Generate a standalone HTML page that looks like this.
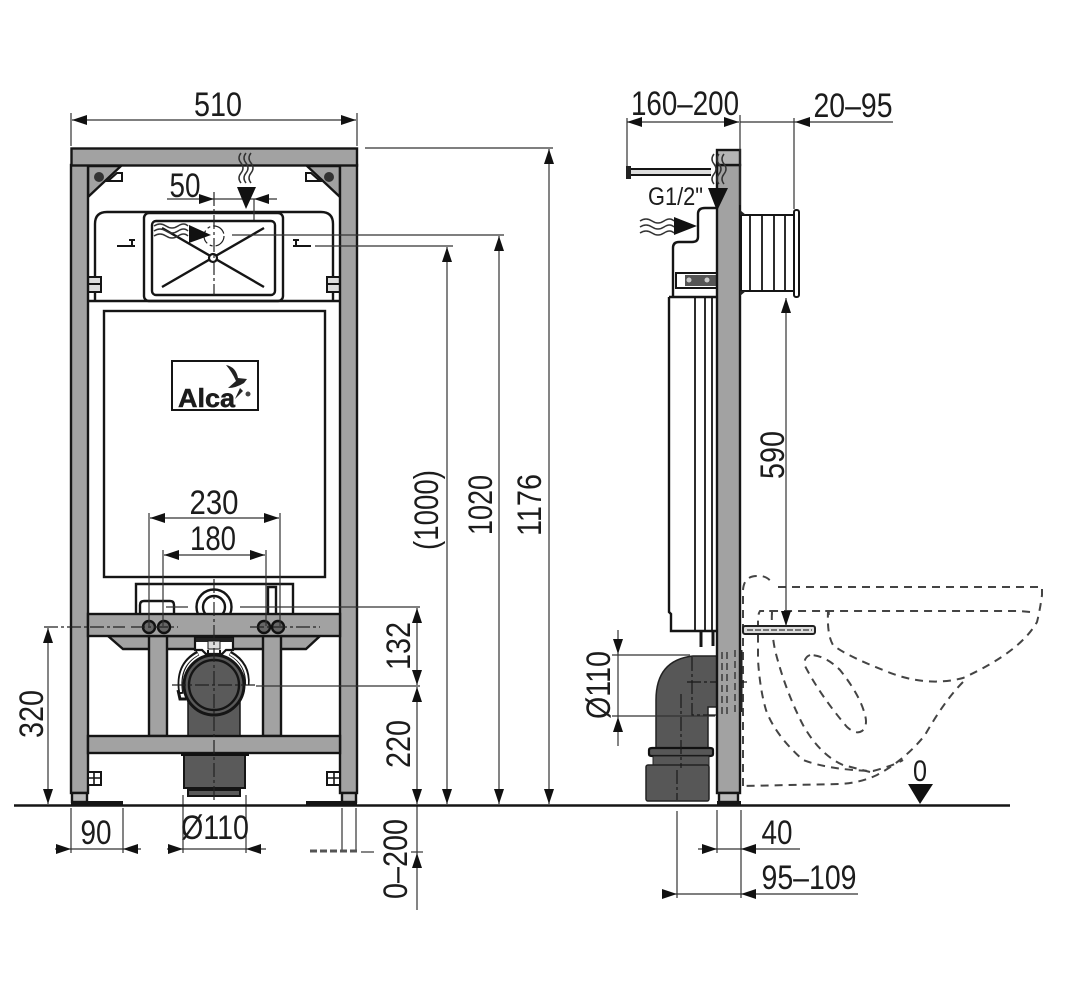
<!DOCTYPE html>
<html>
<head>
<meta charset="utf-8">
<style>
html,body{margin:0;padding:0;background:#fff}
svg{display:block}
text{font-family:"Liberation Sans",sans-serif;fill:#1c1c1c}
.t{font-size:34px;text-anchor:middle}
.k{stroke:#151515;stroke-width:2.4;fill:none}
.kf{stroke:#151515;stroke-width:2.4;fill:#a2a2a2}
.d{stroke:#333;stroke-width:1.2;fill:none}
.da{stroke:#333;stroke-width:1.2;fill:none;marker-end:url(#a)}
.c{stroke:#222;stroke-width:1.2;fill:none;stroke-dasharray:14 3 3 3}
.h{stroke:#444;stroke-width:2;fill:none;stroke-dasharray:8 6}
.w{stroke:#333;stroke-width:1.5;fill:none}
</style>
</head>
<body>
<svg width="1070" height="995" viewBox="0 0 1070 995" xmlns="http://www.w3.org/2000/svg">
<defs>
<marker id="a" markerUnits="userSpaceOnUse" markerWidth="16" markerHeight="12" refX="15" refY="5" orient="auto"><path d="M0 0L15 5L0 10Z" fill="#111"/></marker>
</defs>
<rect width="1070" height="995" fill="#fff"/>

<!-- FRONT VIEW: wall-side shapes -->
<rect x="104" y="311" width="221" height="266" fill="#fff" class="k"/>
<path d="M136 614V584H293V614" class="k" fill="#fff"/>
<path d="M140 614V605Q140 601 144 601H170Q174 601 174 605V614" class="k"/>
<path d="M268 614V587H276V614" class="k"/>
<circle cx="214" cy="607" r="17.5" fill="#fff" stroke="#151515" stroke-width="2.4"/>
<circle cx="214" cy="607" r="11" fill="#fff" stroke="#151515" stroke-width="2.4"/>
<path d="M108 636L123 649H306L320 636Z" class="kf"/>

<!-- top panel -->
<path d="M95 301V224Q95 212 107 212H321Q333 212 333 224V301" class="k"/>
<path d="M88 301H340" class="k"/>
<rect x="144" y="213" width="139" height="88" rx="5" fill="#fff" class="k"/>
<rect x="152" y="221" width="123" height="74" rx="4" fill="#fff" class="k"/>
<path d="M162 287L264 228M162 228L264 287" stroke="#151515" stroke-width="2.4"/>
<circle cx="213" cy="258" r="4" fill="#fff" stroke="#151515" stroke-width="2.2"/>
<circle cx="214" cy="236" r="10" class="c" stroke-dasharray="4 3"/>
<path d="M117 246H135M132 246V240M129 240H135M293 246H311M296 246V240M293 240H299" stroke="#151515" stroke-width="2" fill="none"/>
<path d="M88 277H101V292H88ZM327 277H340V292H327Z" fill="#ddd" stroke="#151515" stroke-width="2"/>
<path d="M89 284H100M328 284H339" stroke="#151515" stroke-width="2"/>

<!-- corner gussets -->
<path d="M88 166H121L88 197Z" class="kf"/>
<path d="M340 166H307L340 197Z" class="kf"/>
<circle cx="99" cy="177" r="5" fill="#333"/>
<circle cx="329" cy="177" r="5" fill="#333"/>
<path d="M108 181L117 173H122V181Z" fill="#fff" stroke="#151515" stroke-width="2"/>
<path d="M320 181L311 173H306V181Z" fill="#fff" stroke="#151515" stroke-width="2"/>

<!-- frame -->
<rect x="71" y="165" width="17" height="628" class="kf"/>
<rect x="340" y="165" width="17" height="628" class="kf"/>
<rect x="71.500" y="148.500" width="285.500" height="17" class="kf"/>
<rect x="72" y="793" width="15" height="9" class="kf" style="fill:#bbb"/>
<rect x="342" y="793" width="14" height="9" class="kf" style="fill:#bbb"/>
<rect x="71" y="801" width="52" height="4" fill="#151515"/>
<rect x="306" y="801" width="51" height="4" fill="#151515"/>
<path d="M88 772H101V785H88ZM327 772H340V785H327Z" fill="#fff" stroke="#151515" stroke-width="2"/>
<path d="M94 772V785M334 772V785M88 778H101M327 778H340" stroke="#151515" stroke-width="1.6"/>

<!-- inner posts -->
<rect x="149" y="636" width="18" height="100" class="kf"/>
<rect x="263" y="636" width="18" height="100" class="kf"/>

<!-- waste pipe front -->
<rect x="188" y="690" width="52" height="46" fill="#5a5a5a"/>
<path d="M188 690V736M240 690V736" stroke="#151515" stroke-width="1.5"/>
<path d="M184 755H245V788H184Z" fill="#5a5a5a" stroke="#151515" stroke-width="2"/>
<path d="M188 790H240V796H188Z" fill="#5a5a5a" stroke="#151515" stroke-width="2"/>
<path d="M181 694Q176 665 198 653M247 685Q249 664 230 653" stroke="#151515" stroke-width="5" fill="none"/>
<path d="M181 692Q177 665 198 654M247 685Q248 664 230 654" stroke="#fff" stroke-width="2" fill="none"/>
<path d="M178 690L180 699L186 699" stroke="#151515" stroke-width="3" fill="none"/>
<circle cx="214" cy="685" r="30" fill="#5a5a5a" stroke="#151515" stroke-width="3"/>
<circle cx="214" cy="685" r="25" fill="#5a5a5a" stroke="#151515" stroke-width="2.4"/>
<path d="M195 637H233V650H226L222 654H206L202 650H195Z" fill="#fff" stroke="#151515" stroke-width="2.2"/>
<path d="M196 638H233V642H196Z" fill="#222"/>
<rect x="208" y="641" width="12" height="8" fill="#ddd" stroke="#151515"/>
<path d="M208 650V654M220 650V654" stroke="#151515" stroke-width="2"/>

<!-- crossbars -->
<rect x="88" y="614" width="252" height="22" class="kf"/>
<rect x="88" y="736" width="252" height="17" class="kf"/>
<rect x="186" y="735" width="56" height="2" fill="#111"/>
<rect x="181" y="753" width="68" height="3" fill="#111"/>

<!-- bolts -->
<g fill="#666" stroke="#111" stroke-width="2.4">
<circle cx="149" cy="627" r="6"/><circle cx="164" cy="627" r="6"/>
<circle cx="264" cy="627" r="6"/><circle cx="278" cy="627" r="6"/>
</g>
<path d="M44 627H125M131 627H178M250 627H320" class="c"/>

<!-- center lines -->
<path d="M214 192V295M214 579V800" class="c"/>
<path d="M166 607H188M240 607H420" class="d"/>
<path d="M172 685H256" class="c"/>
<path d="M256 686H420" class="d"/>
<path d="M232 235H504M315 246H453M365 148H553" class="d"/>

<!-- front dims -->
<path d="M71 113V146M357 113V146" class="d"/>
<path d="M214 120H72" class="da"/><path d="M214 120H356" class="da"/>
<text class="t" x="218" y="116" textLength="48" lengthAdjust="spacingAndGlyphs">510</text>

<path d="M167 199H214" class="da"/><path d="M277 199H254" class="da"/><path d="M214 199H254M254 199V220" class="d"/>
<text class="t" x="185" y="197" textLength="31" lengthAdjust="spacingAndGlyphs">50</text>

<path d="M149 513V626M163 550V626M266 550V626M280 513V626" class="d"/>
<path d="M215 518H150" class="da"/><path d="M215 518H279" class="da"/>
<path d="M215 555H164" class="da"/><path d="M215 555H265" class="da"/>
<text class="t" x="214" y="514" textLength="49" lengthAdjust="spacingAndGlyphs">230</text>
<text class="t" x="213" y="550" textLength="46" lengthAdjust="spacingAndGlyphs">180</text>

<path d="M549 470V149" class="da"/><path d="M549 470V804" class="da"/>
<path d="M499 520V236" class="da"/><path d="M499 520V804" class="da"/>
<path d="M447 525V247" class="da"/><path d="M447 525V804" class="da"/>
<path d="M48 715V628" class="da"/><path d="M48 715V804" class="da"/>
<path d="M417 640V608" class="da"/><path d="M417 640V685" class="da"/>
<path d="M417 745V687" class="da"/><path d="M417 745V804" class="da"/>
<path d="M417 910V853" class="da"/>
<path d="M417 805V853" class="d"/>
<path d="M411 852H423" class="d"/>

<text class="t" transform="translate(541 505) rotate(-90)" textLength="62" lengthAdjust="spacingAndGlyphs">1176</text>
<text class="t" transform="translate(492 505) rotate(-90)" textLength="60" lengthAdjust="spacingAndGlyphs">1020</text>
<text class="t" transform="translate(438 510) rotate(-90)" textLength="80" lengthAdjust="spacingAndGlyphs">(1000)</text>
<text class="t" transform="translate(43 714) rotate(-90)" textLength="48" lengthAdjust="spacingAndGlyphs">320</text>
<text class="t" transform="translate(410 646) rotate(-90)" textLength="48" lengthAdjust="spacingAndGlyphs">132</text>
<text class="t" transform="translate(410 744) rotate(-90)" textLength="48" lengthAdjust="spacingAndGlyphs">220</text>
<text class="t" transform="translate(407 859) rotate(-90)" textLength="80" lengthAdjust="spacingAndGlyphs">0–200</text>

<path d="M71 808V853M123 808V853M183 795V853M246 795V853" class="d"/>
<path d="M55 849H71" class="da"/><path d="M141 849H123" class="da"/><path d="M71 849H123" class="d"/>
<path d="M167 849H183" class="da"/><path d="M266 849H246" class="da"/><path d="M183 849H246" class="d"/>
<text class="t" x="96" y="844" textLength="31" lengthAdjust="spacingAndGlyphs">90</text>
<text class="t" x="215" y="839" textLength="68" lengthAdjust="spacingAndGlyphs">Ø110</text>
<path d="M342 808V851M356 808V851" class="d"/>
<path d="M310 851H358" stroke="#555" stroke-width="3" stroke-dasharray="7 3"/>
<path d="M361 852H374" class="d"/>

<!-- floor -->
<path d="M14 805.500H1010" stroke="#151515" stroke-width="2.6"/>

<!-- logo -->
<rect x="172" y="361" width="86" height="49" fill="#fff" stroke="#151515" stroke-width="2"/>
<text x="178" y="407" style="font-size:26px;font-weight:bold;stroke:#1c1c1c;stroke-width:.5" textLength="57" lengthAdjust="spacingAndGlyphs">Alca</text>
<path d="M226 365Q236 367 238 378L247 379L244 383Q236 388 228 388L236 381Q232 372 226 365Z" fill="#222"/>
<path d="M240 388L235 399L243 391Z" fill="#222"/>
<circle cx="248" cy="394" r="2.500" fill="#444"/>

<!-- flow arrows front -->
<path d="M241 153q-4 5 0 10t0 10t0 10M246 153q-4 5 0 10t0 10t0 10M251 153q-4 5 0 10t0 10t0 10" class="w"/>
<path d="M237 187H256L246 209Z" fill="#111"/>
<path d="M154 226q6 -4 12 0t12 0t10 0M154 231q6 -4 12 0t12 0t10 0M154 236q6 -4 12 0t12 0t10 0" class="w"/>
<path d="M189 225L211 235L189 243Z" fill="#111"/>

<!-- SIDE VIEW -->
<!-- bowl -->
<g class="h">
<path d="M743 786V590Q744 576 757 576Q767 575 773 584"/>
<path d="M778 587H1042V595Q1040 610 1037 622Q1020 652 963 678Q925 688 883 670Q845 655 833 645Q827 635 828 612"/>
<path d="M1030 612L1020 611H760Q758 614 758 620V660Q760 690 766 710Q775 735 803 760Q830 770 873 771Q895 765 903 760"/>
<path d="M772 612Q771 630 775 650Q785 690 803 725Q820 755 843 765L870 772"/>
<path d="M810 655Q803 658 805 666Q820 695 847 727Q856 735 862 731Q868 726 865 715Q860 695 840 670Q825 655 810 655Z"/>
<path d="M963 682Q945 700 925 735Q905 760 877 775Q860 783 840 784L743 786"/>
</g>
<path d="M772 611V615M829 611V615M769 611H776M825 611H833" stroke="#444" stroke-width="1.5"/>

<!-- cistern side -->
<path d="M717 208H705Q698 208 698 214V237Q698 242 692 242H679Q673 242 673 248V296" class="k"/>
<path d="M669 297H717" class="k"/>
<path d="M669 297V612L671 614V631H717" class="k"/>
<path d="M695 297V631M705 297V631M712 297V631" stroke="#151515" stroke-width="1.8"/>
<path d="M676 273H717V288H676Z" fill="#fff" stroke="#151515" stroke-width="2"/>
<path d="M685 275H717V286H685Z" fill="#555"/>
<circle cx="689" cy="280" r="2.500" fill="#ccc"/><circle cx="707" cy="280" r="2.500" fill="#ccc"/>
<path d="M701 631V647M713 631V646" stroke="#151515" stroke-width="3"/>

<!-- elbow -->
<path d="M717 656H693Q656 660 656 700V748H708V707H717Z" fill="#575757" stroke="#222" stroke-width="1.5"/>
<path d="M649 750Q649 748 652 748H710Q713 748 713 750V754Q713 756 710 756H652Q649 756 649 754Z" fill="#575757" stroke="#111" stroke-width="2.2"/>
<rect x="653" y="756" width="56" height="10" fill="#575757" stroke="#222"/>
<rect x="646" y="765" width="63" height="36" rx="2" fill="#575757" stroke="#222" stroke-width="1.5"/>

<path d="M692 657V715H716M687 682H750M681 694V768M677 770V800" class="c" style="stroke:#1a1a1a"/>

<!-- column -->
<rect x="717" y="165" width="23" height="628" class="kf"/>
<rect x="717" y="150" width="23" height="15" fill="#b5b5b5" stroke="#151515" stroke-width="2.4"/>
<rect x="719" y="793" width="19" height="9" class="kf" style="fill:#bbb"/>
<rect x="717" y="801" width="24" height="4" fill="#151515"/>
<path d="M727 652V714M735 650V716M722 652V716" stroke="#333" stroke-width="1.4" stroke-dasharray="7 4"/>
<path d="M741 650V712" stroke="#222" stroke-width="3"/>

<!-- rod -->
<path d="M630 169H711M630 175H711" stroke="#151515" stroke-width="2"/>
<path d="M630 172H711" stroke="#ddd" stroke-width="4"/>
<rect x="626" y="166" width="5" height="13" fill="#222"/>

<!-- bellows -->
<rect x="741" y="215" width="53" height="76" fill="#fff" stroke="#151515" stroke-width="2"/>
<path d="M750 215V291M762 215V291M774 215V291M785 215V291" stroke="#151515" stroke-width="1.8"/>
<rect x="794" y="210" width="5" height="87" rx="2" fill="#fff" stroke="#151515" stroke-width="2"/>
<path d="M740 210L746 215H740ZM740 296L746 291H740Z" fill="#222"/>

<!-- bolt -->
<rect x="743" y="626" width="72" height="8" rx="2" fill="#ddd" stroke="#222" stroke-width="2"/>
<path d="M747 630H812" stroke="#555" stroke-width="1.5" stroke-dasharray="6 2"/>

<!-- flow arrows side -->
<path d="M714 154q-4 5 0 10t0 10t0 10M719 154q-4 5 0 10t0 10t0 10M724 154q-4 5 0 10t0 10t0 10" class="w"/>
<path d="M708 188H728L717 211Z" fill="#111"/>
<path d="M640 221q6 -4 12 0t12 0t10 0M640 227q6 -4 12 0t12 0t10 0M640 233q6 -4 12 0t12 0t10 0" class="w"/>
<path d="M674 217L697 226L674 235Z" fill="#111"/>
<text x="648" y="205" style="font-size:25px" textLength="55" lengthAdjust="spacingAndGlyphs">G1/2"</text>

<!-- side dims -->
<path d="M627 118V166M740 115V205M794 118V209" class="d"/>
<path d="M680 122H627" class="da"/><path d="M680 122H739" class="da"/>
<path d="M893 122H795" class="da"/><path d="M740 122H795" class="d"/>
<text class="t" x="685" y="115" textLength="108" lengthAdjust="spacingAndGlyphs">160–200</text>
<text class="t" x="853" y="117" textLength="79" lengthAdjust="spacingAndGlyphs">20–95</text>

<path d="M786 470V298" class="da"/><path d="M786 470V626" class="da"/>
<text class="t" transform="translate(784 455) rotate(-90)" textLength="48" lengthAdjust="spacingAndGlyphs">590</text>

<path d="M612 655H690M612 716H715" class="d"/>
<path d="M618 630V654" class="da"/><path d="M618 746V717" class="da"/><path d="M618 654V717" class="d"/>
<text class="t" transform="translate(610 685) rotate(-90)" textLength="68" lengthAdjust="spacingAndGlyphs">Ø110</text>

<path d="M677 811V898M717 810V853M741 810V898" class="d"/>
<path d="M698 849H717" class="da"/><path d="M800 849H741" class="da"/><path d="M717 849H741" class="d"/>
<path d="M663 894H677" class="da"/><path d="M858 894H741" class="da"/><path d="M677 894H741" class="d"/>
<text class="t" x="777" y="844" textLength="31" lengthAdjust="spacingAndGlyphs">40</text>
<text class="t" x="809" y="889" textLength="95" lengthAdjust="spacingAndGlyphs">95–109</text>

<text class="t" x="920" y="781" textLength="14" lengthAdjust="spacingAndGlyphs" style="font-size:30px">0</text>
<path d="M908 784H933L920 804Z" fill="#111"/>
</svg>
</body>
</html>
